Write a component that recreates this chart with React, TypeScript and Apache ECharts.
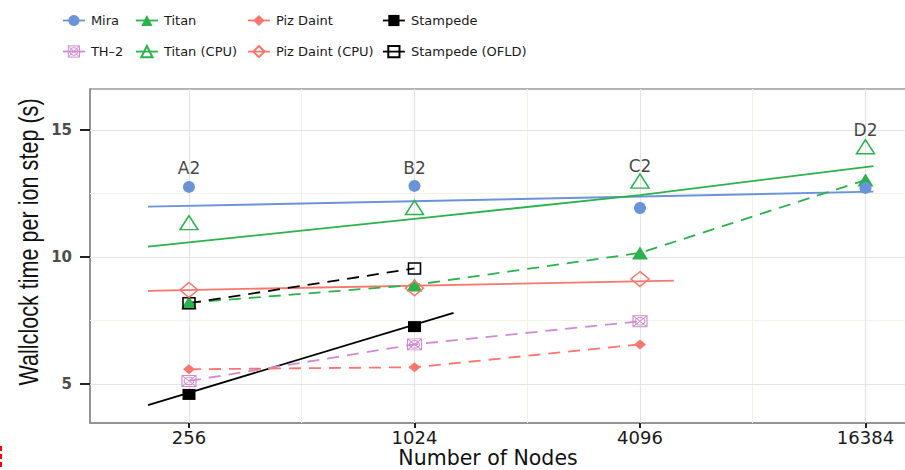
import React, { useEffect, useRef } from 'react';
import * as echarts from 'echarts';

// ---- data ----
const nodes = [256, 1024, 4096, 16384];
const miraTime = [12.76, 12.8, 11.93, 12.72];
const th2Time = [5.12, 6.56, 7.47];
const titanTime = [8.2, 8.9, 10.16, 13.03];
const titanCpuTime = [11.35, 11.95, 12.99, 14.34];
const pizDaintTime = [5.58, 5.66, 6.56];
const pizDaintCpuTime = [8.7, 8.77, 9.13];
const stampedeTime = [4.59, 7.26];
const stampedeOfldTime = [8.18, 9.55];

const miraFitNodes = [199, 17200];
const miraFitTime = [11.98, 12.57];
const titanFitNodes = [199, 1202, 4096, 17200];
const titanFitTime = [10.41, 11.61, 12.44, 13.58];
const pizFitNodes = [199, 5043];
const pizFitTime = [8.67, 9.07];
const stampedeFitNodes = [199, 1302];
const stampedeFitTime = [4.17, 7.8];

const caseLabels = ['A2', 'B2', 'C2', 'D2'];
const caseLabelTime = [13.5, 13.5, 13.6, 15.0];

const xTicks = [256, 1024, 4096, 16384];
const xMinor = [512, 2048, 8192];
const yTicks = [5, 10, 15];
const yMinor = [7.5, 12.5];

const C_MIRA = '#6b93da';
const C_TITAN = '#2bb24c';
const C_PIZ = '#f8766d';
const C_TH2 = '#cf8bd1';
const C_ST = '#000000';

const TH2_SYMBOL =
  'path://M0,0L10,0L10,10L0,10Z M0,0L10,10 M10,0L0,10 M8.5,5A3.5,3.5,0,1,1,1.5,5A3.5,3.5,0,1,1,8.5,5Z';

const pairs = (xs: number[], ys: number[]) => ys.map((y, i) => [xs[i], y]);
const isolated = (xs: number[], ys: number[]) => {
  const out: any[] = [];
  ys.forEach((y, i) => {
    if (i > 0) out.push(['-', '-']);
    out.push([xs[i], y]);
  });
  return out;
};

const HOLLOW = 'rgba(255,255,255,0)';

function mk(name: string, color: string, symbol: string, size: any, data: any[], opts: any = {}) {
  return {
    name,
    type: 'line',
    data,
    symbol,
    symbolSize: size,
    showSymbol: true,
    connectNulls: false,
    z: 3,
    lineStyle: { color, width: 1.8, type: opts.dashed ? [12, 8] : 'solid' },
    itemStyle: opts.hollow
      ? { color: HOLLOW, borderColor: color, borderWidth: opts.bw || 1.5 }
      : { color, borderWidth: 0 },
  };
}

function fit(name: string, color: string, data: any[]) {
  return {
    name,
    type: 'line',
    data,
    symbol: 'none',
    showSymbol: false,
    z: 2,
    lineStyle: { color, width: 1.8 },
  };
}

export default function App() {
  const ref = useRef<HTMLDivElement>(null);
  useEffect(() => {
    if (!ref.current) return;
    const chart = echarts.init(ref.current, undefined, { renderer: 'svg' });
    const legendBase = {
      orient: 'vertical',
      top: 14,
      itemWidth: 22,
      itemHeight: 14,
      itemGap: 18,
      padding: 0,
      lineStyle: { type: 'solid', width: 1.8 },
      textStyle: { fontFamily: 'DejaVu Sans', fontSize: 13, color: '#1a1a1a', padding: [0, 0, 0, 1] },
    };
    const gridLines = [
      ...xMinor.map((v) => ({ xAxis: v, lineStyle: { color: '#f3f3e3', width: 1, type: 'solid' } })),
      ...yMinor.map((v) => ({ yAxis: v, lineStyle: { color: '#f3f3e3', width: 1, type: 'solid' } })),
      ...xTicks.map((v) => ({ xAxis: v, lineStyle: { color: '#e4e4e4', width: 1.2, type: 'solid' } })),
      ...yTicks.map((v) => ({ yAxis: v, lineStyle: { color: '#e4e4e4', width: 1.2, type: 'solid' } })),
    ];
    chart.setOption({
      animation: false,
      backgroundColor: '#ffffff',
      grid: {
        left: 90,
        right: -5,
        top: 89,
        bottom: 47,
        outerBoundsMode: 'none',
        containLabel: false,
        show: true,
        borderColor: '#9a9a9a',
        borderWidth: 1.5,
        backgroundColor: 'transparent',
      },
      legend: [
        {
          ...legendBase,
          left: 62,
          data: ['Mira', { name: 'TH\u20132', itemStyle: { color: HOLLOW, borderColor: C_TH2, borderWidth: 1 } }],
        },
        { ...legendBase, left: 135, data: ['Titan', 'Titan (CPU)'] },
        { ...legendBase, left: 247, data: ['Piz Daint', 'Piz Daint (CPU)'] },
        { ...legendBase, left: 382, data: ['Stampede', 'Stampede (OFLD)'] },
      ],
      xAxis: {
        type: 'log',
        logBase: 2,
        min: 139.3,
        max: 21540,
        axisLine: { show: true, lineStyle: { color: '#8a8a8a', width: 1.5 } },
        axisTick: { show: true, customValues: xTicks, length: 5, lineStyle: { color: '#222', width: 2 } },
        axisLabel: {
          customValues: xTicks,
          margin: 6,
          fontFamily: 'DejaVu Sans',
          fontSize: 18,
          lineHeight: 16,
          color: '#1a1a1a',
          formatter: (v: number) => String(Math.round(v)),
        },
        splitLine: { show: false },
        minorSplitLine: { show: false },
        name: 'Number of Nodes',
        nameLocation: 'middle',
        nameGap: 26,
        nameMoveOverlap: false,
        nameTextStyle: {
          fontFamily: 'DejaVu Sans',
          fontSize: 20.5,
          lineHeight: 18,
          color: '#111',
          padding: [0, 24, 0, 0],
        },
      },
      yAxis: {
        type: 'value',
        min: 3.465,
        max: 16.614,
        axisLine: { show: true, lineStyle: { color: '#8a8a8a', width: 1.5 } },
        axisTick: { show: true, customValues: yTicks, length: 10, lineStyle: { color: '#222', width: 2 } },
        axisLabel: {
          customValues: yTicks,
          margin: 18,
          fontFamily: 'DejaVu Sans',
          fontWeight: 'bold',
          fontSize: 15,
          color: '#4d4d4d',
        },
        splitLine: { show: false },
      },
      series: [
        {
          name: 'gridlines',
          type: 'line',
          data: [],
          z: 1,
          silent: true,
          markLine: {
            z: 1,
            silent: true,
            symbol: ['none', 'none'],
            label: { show: false },
            animation: false,
            data: gridLines,
          },
        },
        fit('Mira fit', C_MIRA, pairs(miraFitNodes, miraFitTime)),
        fit('Titan fit', C_TITAN, pairs(titanFitNodes, titanFitTime)),
        fit('Piz Daint fit', C_PIZ, pairs(pizFitNodes, pizFitTime)),
        fit('Stampede fit', C_ST, pairs(stampedeFitNodes, stampedeFitTime)),
        mk('TH\u20132', C_TH2, TH2_SYMBOL, [14, 11], pairs(nodes, th2Time), { dashed: true, hollow: true, bw: 1 }),
        mk('Piz Daint', C_PIZ, 'diamond', [12, 10], pairs(nodes, pizDaintTime), { dashed: true }),
        mk('Titan', C_TITAN, 'triangle', [16, 13], pairs(nodes, titanTime), { dashed: true }),
        mk('Stampede (OFLD)', C_ST, 'rect', [12, 11], pairs(nodes, stampedeOfldTime), { dashed: true, hollow: true }),
        mk('Mira', C_MIRA, 'circle', 12, isolated(nodes, miraTime)),
        mk('Titan (CPU)', C_TITAN, 'triangle', [18, 14], isolated(nodes, titanCpuTime), { hollow: true }),
        mk('Piz Daint (CPU)', C_PIZ, 'diamond', [18, 15], isolated(nodes, pizDaintCpuTime), { hollow: true }),
        mk('Stampede', C_ST, 'rect', [13, 11], isolated(nodes, stampedeTime)),
        {
          name: 'case labels',
          type: 'scatter',
          symbolSize: 1,
          itemStyle: { color: 'rgba(0,0,0,0)' },
          z: 4,
          data: caseLabels.map((c, i) => [nodes[i], caseLabelTime[i], c]),
          label: {
            show: true,
            position: 'inside',
            formatter: (p: any) => p.value[2],
            fontFamily: 'DejaVu Sans',
            fontSize: 17,
            color: '#111',
          },
        },
      ],
      graphic: [
        {
          type: 'text',
          x: 29,
          y: 242,
          rotation: Math.PI / 2,
          scaleX: 0.8,
          scaleY: 1,
          silent: true,
          style: {
            text: 'Wallclock time per ion step (s)',
            fontFamily: 'Liberation Sans',
            fontSize: 27,
            fill: '#111',
            align: 'center',
            verticalAlign: 'middle',
          },
        },
        {
          type: 'line',
          shape: { x1: 1, y1: 446, x2: 1, y2: 470 },
          style: { stroke: '#ff0000', lineWidth: 2, lineDash: [5, 3] },
          silent: true,
        },
      ],
    });
    return () => chart.dispose();
  }, []);
  return (
    <div
      ref={ref}
      style={{ position: 'fixed', left: 0, top: 0, width: 905, height: 470 }}
    />
  );
}
